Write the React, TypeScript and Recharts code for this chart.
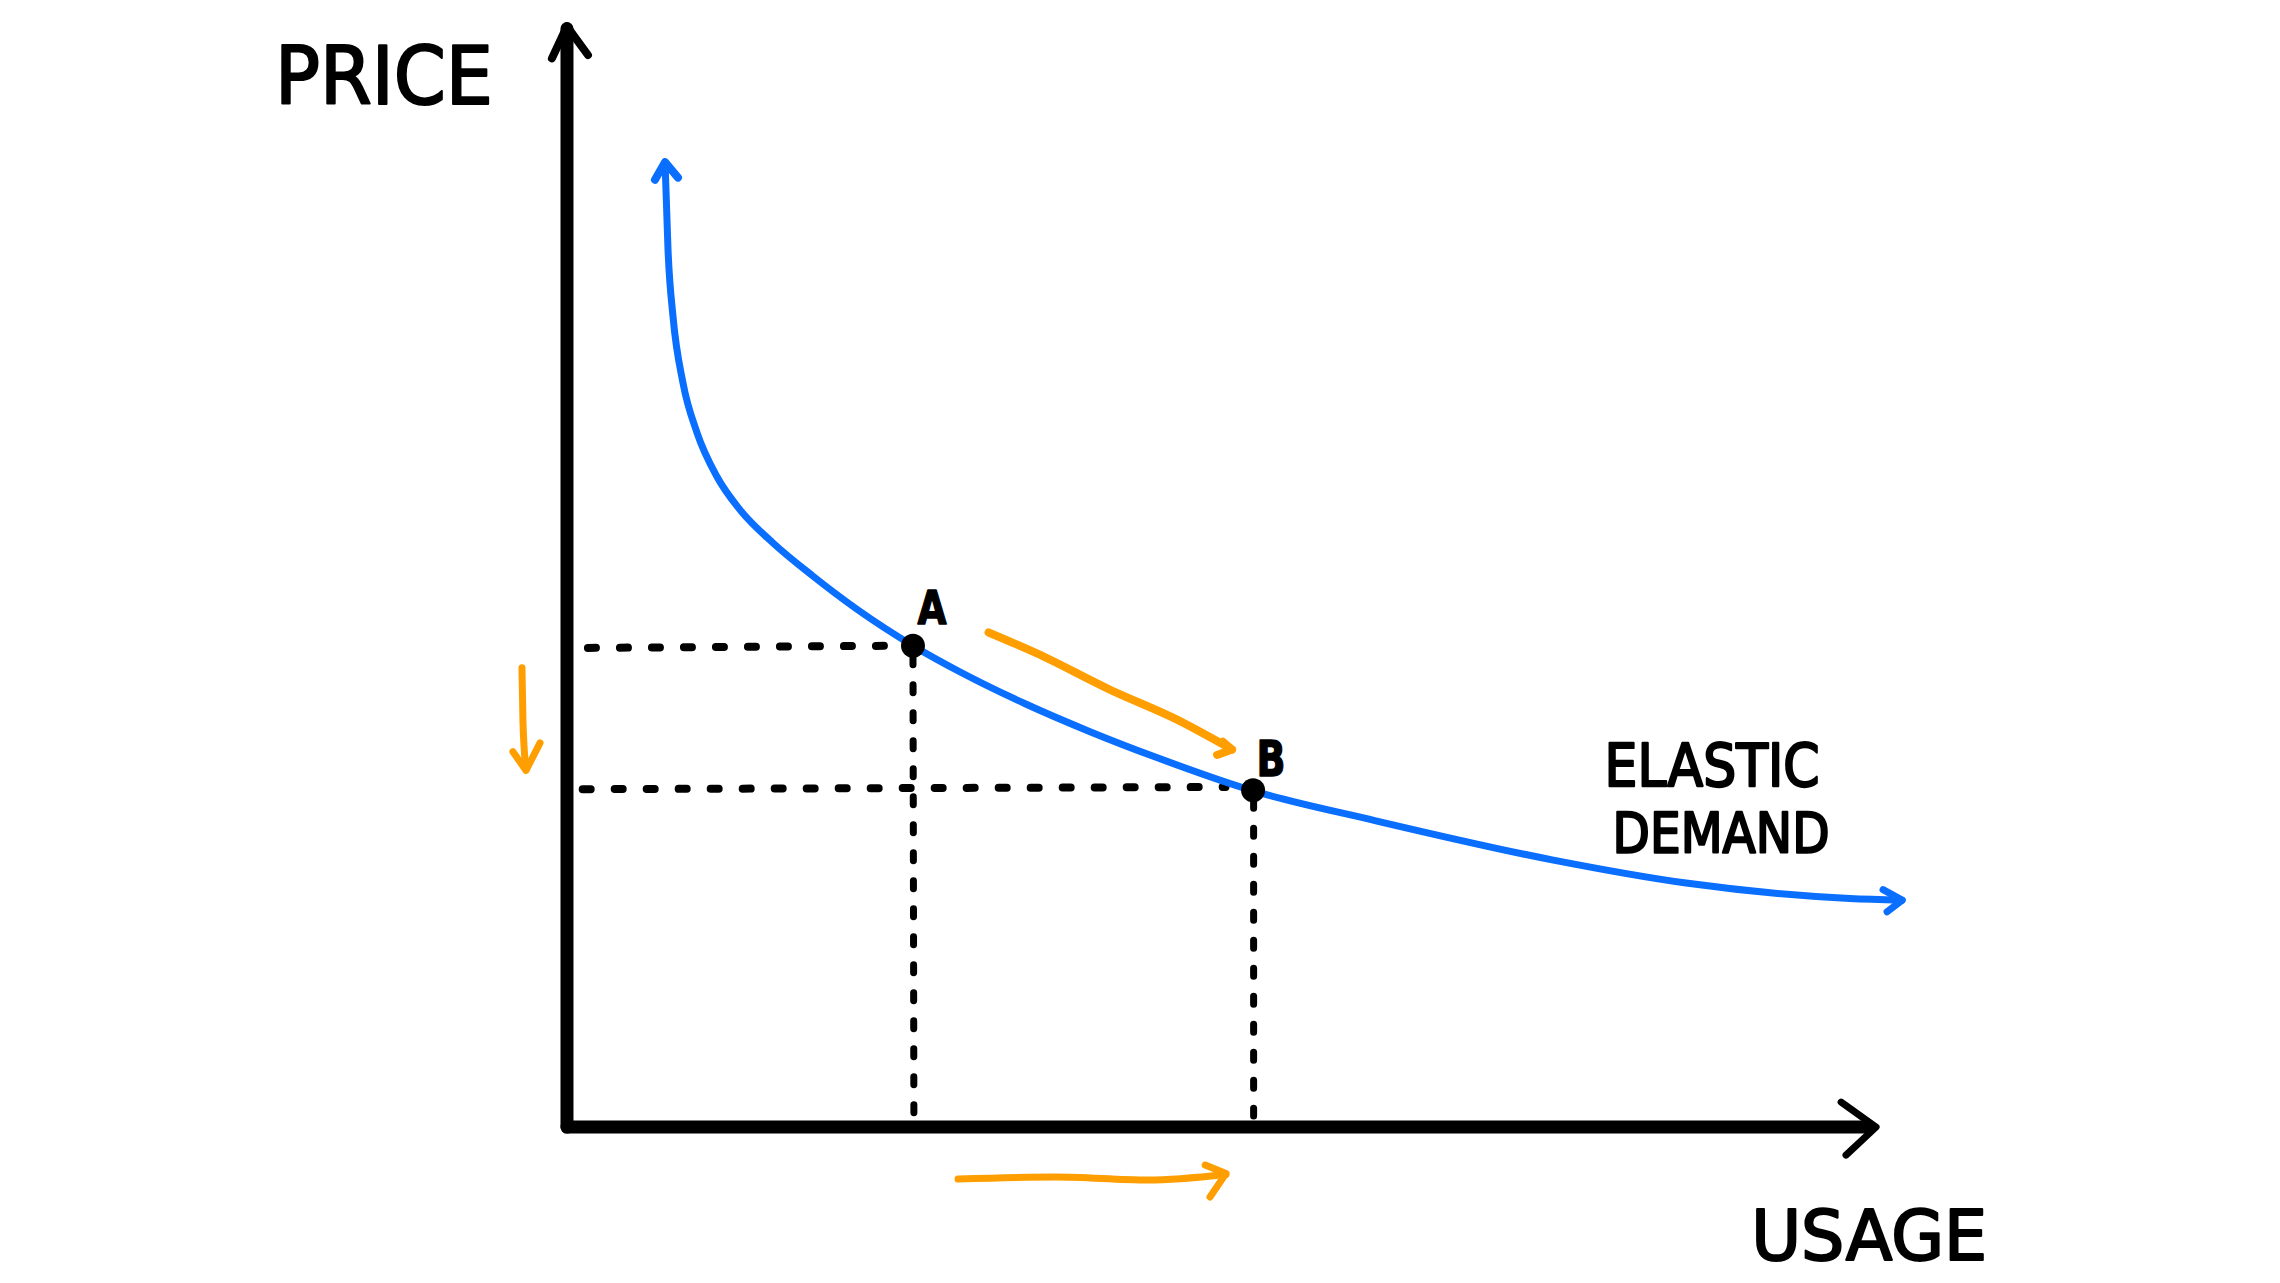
import React from "react";
import { ComposedChart, Line, Scatter, XAxis, YAxis } from "recharts";

// Demand curve (usage, price) in abstract units
const demandCurve = [
  { x: 7.49, y: 87.4 },
  { x: 7.72, y: 79.4 },
  { x: 8.1, y: 73.4 },
  { x: 8.86, y: 67.4 },
  { x: 9.93, y: 62.9 },
  { x: 11.46, y: 58.9 },
  { x: 13.22, y: 55.9 },
  { x: 15.74, y: 52.9 },
  { x: 18.79, y: 49.9 },
  { x: 22.15, y: 46.9 },
  { x: 26.43, y: 43.6 },
  { x: 30.0, y: 41.24 },
  { x: 35.0, y: 38.34 },
  { x: 40.0, y: 35.79 },
  { x: 45.0, y: 33.49 },
  { x: 52.41, y: 30.45 },
  { x: 61.57, y: 27.8 },
  { x: 75.25, y: 24.2 },
  { x: 85.48, y: 22.1 },
  { x: 98.01, y: 20.7 },
  { x: 101.99, y: 20.55 },
];
const curveTopHead = [
  { x: 6.72, y: 85.8 },
  { x: 7.49, y: 87.4 },
  { x: 8.48, y: 86.0 },
];
const curveEndHead = [
  { x: 100.53, y: 21.5 },
  { x: 101.99, y: 20.55 },
  { x: 100.84, y: 19.5 },
];

// Axes
const yAxisLine = [
  { x: 0, y: 0 },
  { x: 0, y: 99.5 },
];
const xAxisLine = [
  { x: 0, y: 0 },
  { x: 99.5, y: 0 },
];
const yAxisHead = [
  { x: -1.15, y: 96.8 },
  { x: 0, y: 99.7 },
  { x: 1.6, y: 97.1 },
];
const xAxisHead = [
  { x: 97.33, y: 2.26 },
  { x: 100, y: 0 },
  { x: 97.7, y: -2.54 },
];

// Points A and B
const points = [
  { x: 26.43, y: 43.6, name: "A" },
  { x: 52.41, y: 30.5, name: "B" },
];

// Dotted guides
const guideAH = [
  { x: 1.6, y: 43.4 },
  { x: 26.0, y: 43.6 },
];
const guideAV = [
  { x: 26.43, y: 42.6 },
  { x: 26.5, y: 0.6 },
];
const guideBH = [
  { x: 1.2, y: 30.6 },
  { x: 50.3, y: 30.8 },
];
const guideBV = [
  { x: 52.45, y: 29.6 },
  { x: 52.45, y: 1.0 },
];

// Orange movement arrows
const priceDown = [
  { x: -3.44, y: 41.6 },
  { x: -3.36, y: 36.6 },
  { x: -3.13, y: 32.4 },
];
const priceDownHead = [
  { x: -4.13, y: 34.0 },
  { x: -3.13, y: 32.3 },
  { x: -2.06, y: 34.8 },
];
const alongCurve = [
  { x: 32.2, y: 44.8 },
  { x: 35.9, y: 42.9 },
  { x: 41.5, y: 39.6 },
  { x: 46.6, y: 36.9 },
  { x: 50.8, y: 34.2 },
];
const alongCurveHead = [
  { x: 50.1, y: 34.9 },
  { x: 50.8, y: 34.2 },
  { x: 49.66, y: 33.7 },
];
const usageRight = [
  { x: 29.87, y: -4.71 },
  { x: 37.28, y: -4.53 },
  { x: 44.39, y: -4.8 },
  { x: 50.34, y: -4.3 },
];
const usageRightHead = [
  { x: 48.75, y: -3.44 },
  { x: 50.34, y: -4.2 },
  { x: 49.12, y: -6.34 },
];

// Text labels (x = centre, y = baseline)
const labels = [
  { x: -13.98, y: 92.66, text: "PRICE" },
  { x: 99.47, y: -12.05, text: "USAGE" },
  { x: 87.47, y: 30.9, text: "ELASTIC" },
  { x: 88.16, y: 24.9, text: "DEMAND" },
  { x: 27.88, y: 45.56, text: "A" },
  { x: 53.78, y: 31.8, text: "B" },
];

const labelStyle: Record<string, { size: number; width: number; weight: number; stroke: number }> = {
  PRICE: { size: 80, width: 218, weight: 400, stroke: 2.2 },
  USAGE: { size: 70, width: 236, weight: 400, stroke: 2.2 },
  ELASTIC: { size: 58, width: 215, weight: 400, stroke: 2.4 },
  DEMAND: { size: 56, width: 217, weight: 400, stroke: 2.4 },
  A: { size: 46, width: 29, weight: 700, stroke: 1.5 },
  B: { size: 50, width: 29, weight: 700, stroke: 1.5 },
};

const BLUE = "#0A6EFF";
const ORANGE = "#FF9E00";
const BLACK = "#000000";

const LabelShape = (props: any) => {
  const { cx, cy, payload } = props;
  const st = labelStyle[payload.text];
  return (
    <text
      x={cx}
      y={cy}
      textAnchor="middle"
      fontFamily="DejaVu Sans, sans-serif"
      fontSize={st.size}
      fontWeight={st.weight}
      fill={BLACK}
      stroke={BLACK}
      strokeWidth={st.stroke}
      strokeLinejoin="round"
      textLength={st.width}
      lengthAdjust="spacingAndGlyphs"
    >
      {payload.text}
    </text>
  );
};

const DotShape = (props: any) => {
  const { cx, cy } = props;
  return <circle cx={cx} cy={cy} r={12} fill={BLACK} />;
};

const seg = (
  key: string,
  data: { x: number; y: number }[],
  color: string,
  width: number,
  extra: any = {}
) => (
  <Line
    key={key}
    data={data}
    dataKey="y"
    type={extra.type || "linear"}
    stroke={color}
    strokeWidth={width}
    strokeLinecap="round"
    strokeLinejoin="round"
    dot={false}
    activeDot={false}
    isAnimationActive={false}
    strokeDasharray={extra.dash}
  />
);

export default function App() {
  return (
    <div style={{ position: "absolute", left: 0, top: 0, background: "#fff" }}>
      <ComposedChart
        width={2280}
        height={1283}
        margin={{ top: 23, right: 273, bottom: 1.4, left: 252.8 }}
      >
        <XAxis type="number" dataKey="x" domain={[-24, 110]} hide />
        <YAxis type="number" dataKey="y" domain={[-14, 100]} hide />
        {seg("gAH", guideAH, BLACK, 8, { dash: "8 24" })}
        {seg("gAV", guideAV, BLACK, 7, { dash: "8 20" })}
        {seg("gBH", guideBH, BLACK, 8, { dash: "8 24" })}
        {seg("gBV", guideBV, BLACK, 7, { dash: "8 20" })}
        {seg("yAx", yAxisLine, BLACK, 13)}
        {seg("xAx", xAxisLine, BLACK, 13)}
        {seg("yAh", yAxisHead, BLACK, 8)}
        {seg("xAh", xAxisHead, BLACK, 7)}
        {seg("curve", demandCurve, BLUE, 7, { type: "monotone" })}
        {seg("cTop", curveTopHead, BLUE, 8)}
        {seg("cEnd", curveEndHead, BLUE, 7)}
        {seg("oDown", priceDown, ORANGE, 7, { type: "monotone" })}
        {seg("oDownH", priceDownHead, ORANGE, 7)}
        {seg("oAlong", alongCurve, ORANGE, 8, { type: "monotone" })}
        {seg("oAlongH", alongCurveHead, ORANGE, 8)}
        {seg("oRight", usageRight, ORANGE, 7, { type: "monotone" })}
        {seg("oRightH", usageRightHead, ORANGE, 7)}
        <Scatter data={points} dataKey="y" shape={DotShape} isAnimationActive={false} />
        <Scatter data={labels} dataKey="y" shape={LabelShape} isAnimationActive={false} />
      </ComposedChart>
    </div>
  );
}
